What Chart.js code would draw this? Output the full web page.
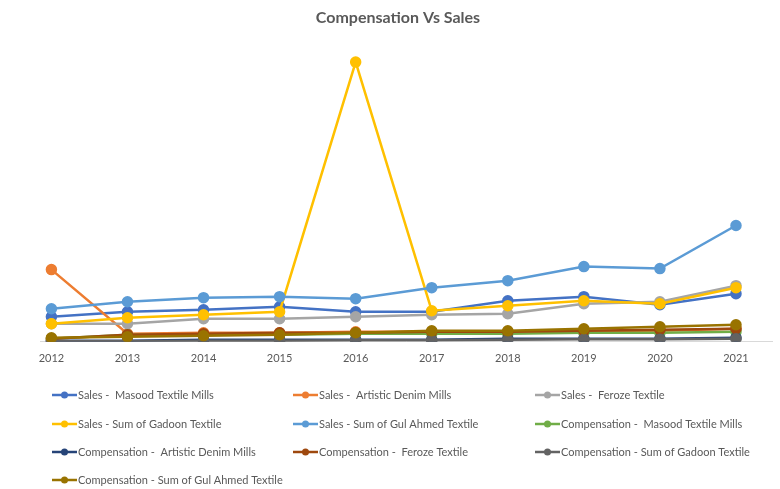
<!DOCTYPE html>
<html lang="en">
<head>
    <meta charset="UTF-8">
    <title>Compensation Vs Sales</title>
    <script src="https://cdn.jsdelivr.net/npm/chart.js"></script>
    <style>
        html, body { margin: 0; padding: 0; background: #fff; }
        #wrap { width: 780px; height: 489px; position: relative; }
    </style>
</head>
<body>
    <div id="wrap"><canvas id="salesChart" width="780" height="489"></canvas></div>

    <script>
        // years on the x axis
        const years = [2012, 2013, 2014, 2015, 2016, 2017, 2018, 2019, 2020, 2021];

        // values (relative units, no y axis shown)
        const salesMasood   = [25, 30, 32, 35, 30, 30, 41, 45, 37, 48];
        const salesArtistic = [72, 8, 9, 9, 10, 10, 10, 11, 11, 13];
        const salesFeroze   = [18, 18, 23, 23, 25, 27, 28, 38, 40, 56];
        const salesGadoon   = [18, 24, 27, 30, 279, 31, 36, 41, 38, 54];
        const salesGul      = [33, 40, 44, 45, 43, 54, 61, 75, 73, 116];
        const compMasood    = [3, 7, 7, 7, 8, 8, 8, 9, 9, 10];
        const compArtistic  = [1, 1, 2, 2, 2, 2, 3, 3, 3, 4];
        const compFeroze    = [3, 7, 8, 9, 9, 10, 10, 11, 12, 13];
        const compGadoon    = [0.5, 0.5, 1, 1, 1.5, 1.5, 2, 2.5, 2.5, 3];
        const compGul       = [4, 5, 6, 7, 9, 11, 11, 13, 15, 17];

        const seriesNames = [
            'Sales -  Masood Textile Mills',
            'Sales -  Artistic Denim Mills',
            'Sales -  Feroze Textile',
            'Sales - Sum of Gadoon Textile',
            'Sales - Sum of Gul Ahmed Textile',
            'Compensation -  Masood Textile Mills',
            'Compensation -  Artistic Denim Mills',
            'Compensation -  Feroze Textile',
            'Compensation - Sum of Gadoon Textile',
            'Compensation - Sum of Gul Ahmed Textile'
        ];
        const seriesValues = [salesMasood, salesArtistic, salesFeroze, salesGadoon, salesGul,
                              compMasood, compArtistic, compFeroze, compGadoon, compGul];
        const colors = ['#4472C4', '#ED7D31', '#A5A5A5', '#FFC000', '#5B9BD5',
                        '#70AD47', '#264478', '#9E480E', '#636363', '#997300'];

        const textColor = '#595959';
        const fontFamily = 'Lato, "Liberation Sans", sans-serif';

        // title + legend drawn by hand so they sit where the Excel ones are
        const gridLegend = {
            id: 'gridLegend',
            afterDraw(chart) {
                const c = chart.ctx;
                c.save();
                c.fillStyle = textColor;
                c.font = 'bold 16px ' + fontFamily;
                c.textAlign = 'center';
                c.textBaseline = 'middle';
                c.fillText('Compensation Vs Sales', 398, 18);

                const colX = [52, 293, 535];
                const rowY = [395, 424, 452, 480];
                c.font = '11px ' + fontFamily;
                c.textAlign = 'left';
                chart.data.datasets.forEach((ds, i) => {
                    const x = colX[i % 3];
                    const y = rowY[Math.floor(i / 3)];
                    c.strokeStyle = ds.borderColor;
                    c.lineWidth = 2.5;
                    c.beginPath();
                    c.moveTo(x, y);
                    c.lineTo(x + 25, y);
                    c.stroke();
                    c.fillStyle = ds.borderColor;
                    c.beginPath();
                    c.arc(x + 12.5, y, 3.5, 0, Math.PI * 2);
                    c.fill();
                    c.fillStyle = textColor;
                    c.fillText(ds.label, x + 26, y);
                });
                c.restore();
            }
        };

        const n = seriesNames.length;
        const ctx = document.getElementById('salesChart').getContext('2d');
        new Chart(ctx, {
            type: 'line',
            data: {
                datasets: seriesNames.map((name, i) => ({
                    label: name,
                    data: years.map((yr, j) => ({ x: yr, y: seriesValues[i][j] })),
                    borderColor: colors[i],
                    backgroundColor: colors[i],
                    borderWidth: 2.5,
                    pointRadius: 4.5,
                    pointHoverRadius: 5,
                    fill: false,
                    tension: 0,
                    order: n - i   // later series on top, as in Excel
                }))
            },
            options: {
                responsive: false,
                animation: false,
                layout: { padding: { left: 40, right: 0, top: 37, bottom: 114 } },
                plugins: {
                    legend: { display: false },
                    tooltip: { enabled: false },
                    title: { display: false }
                },
                scales: {
                    x: {
                        type: 'linear',
                        min: 2011.85,
                        max: 2021.48,
                        afterBuildTicks: (axis) => { axis.ticks = years.map(v => ({ value: v })); },
                        ticks: {
                            color: textColor,
                            font: { family: fontFamily, size: 11 },
                            padding: 10,
                            maxRotation: 0,
                            callback: (v) => String(v)
                        },
                        grid: { display: false, drawTicks: false },
                        border: { display: true, color: '#D9D9D9', width: 1 }
                    },
                    y: {
                        display: false,
                        min: 0,
                        max: 304
                    }
                }
            },
            plugins: [gridLegend]
        });
    </script>
</body>
</html>
